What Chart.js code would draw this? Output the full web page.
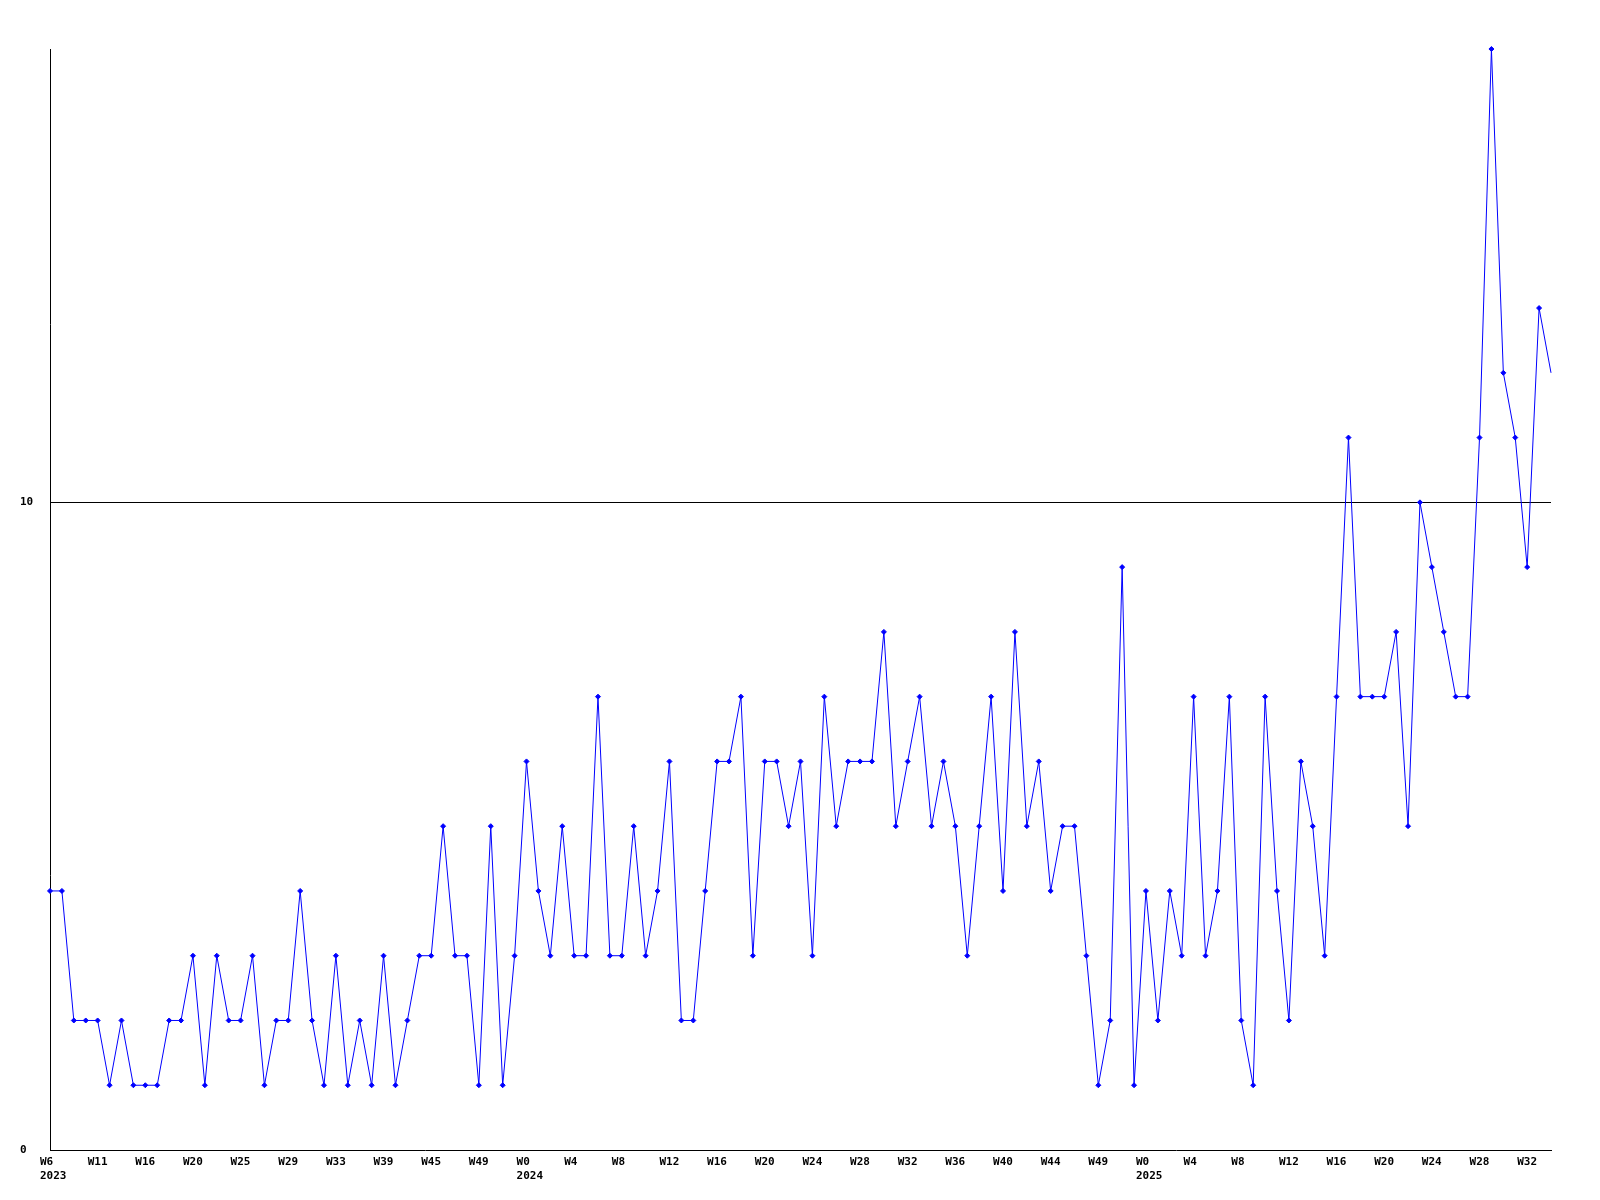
<!DOCTYPE html>
<html>
<head>
<meta charset="utf-8">
<script src="https://cdn.jsdelivr.net/npm/chart.js@4/dist/chart.umd.min.js"></script>
<style>
  html, body { margin: 0; padding: 0; background: #fff; }
  #wrap { width: 1600px; height: 1200px; }
</style>
</head>
<body>
<div id="wrap"><canvas id="weeklyChart" width="1600" height="1200"></canvas></div>
<script>
// week numbers per year (a few weeks are missing in the source)
const weeks2023 = [6, 7, 8, 9, 11, 12, 13, 14, 16, 17, 18, 19, 20, 21, 22, 23, 25, 26, 27, 28,
                   29, 30, 31, 32, 33, 34, 35, 36, 39, 40, 41, 42, 45, 46, 47, 48, 49, 50, 51, 52];
const weeks2024 = [0, 1, 2, 3, 4, 5, 6, 7, 8, 9, 10, 11, 12, 13, 14, 15, 16, 17, 18, 19,
                   20, 21, 22, 23, 24, 25, 26, 27, 28, 29, 30, 31, 32, 33, 34, 35, 36, 37, 38, 39,
                   40, 41, 42, 43, 44, 45, 46, 47, 49, 50, 51, 52];
const weeks2025 = [0, 1, 2, 3, 4, 5, 6, 7, 8, 9, 10, 11, 12, 13, 14, 15, 16, 17, 18, 19,
                   20, 21, 22, 23, 24, 25, 26, 27, 28, 29, 30, 31, 32, 33, 34];

// weekly counts
const counts = [
  4, 4, 2, 2, 2, 1, 2, 1, 1, 1, 2, 2, 3, 1, 3, 2, 2, 3, 1, 2,
  2, 4, 2, 1, 3, 1, 2, 1, 3, 1, 2, 3, 3, 5, 3, 3, 1, 5, 1, 3,
  6, 4, 3, 5, 3, 3, 7, 3, 3, 5, 3, 4, 6, 2, 2, 4, 6, 6, 7, 3,
  6, 6, 5, 6, 3, 7, 5, 6, 6, 6, 8, 5, 6, 7, 5, 6, 5, 3, 5, 7,
  4, 8, 5, 6, 4, 5, 5, 3, 1, 2, 9, 1, 4, 2, 4, 3, 7, 3, 4, 7,
  2, 1, 7, 4, 2, 6, 5, 3, 7, 11, 7, 7, 7, 8, 5, 10, 9, 8, 7, 7,
  11, 17, 12, 11, 9, 13, 12
];

const yTicksShown = [0, 10];
const labelEvery = 4;

// build categories and remember where each year starts
const labels = [];
const yearAt = {};
[[2023, weeks2023], [2024, weeks2024], [2025, weeks2025]].forEach(function(pair) {
    yearAt[labels.length] = String(pair[0]);
    pair[1].forEach(function(w) { labels.push('W' + w); });
});

const monoFont = { family: '"DejaVu Sans Mono", monospace', size: 11, weight: 'bold' };

new Chart(document.getElementById('weeklyChart'), {
    type: 'line',
    data: {
        labels: labels,
        datasets: [{
            data: counts,
            borderColor: '#0000ff',
            backgroundColor: '#0000ff',
            borderWidth: 1,
            pointStyle: 'rectRot',
            pointRadius: function(ctx) { return ctx.dataIndex === counts.length - 1 ? 0 : 2.5; },
            pointBorderWidth: 1,
            tension: 0,
            fill: false,
            clip: 4
        }]
    },
    options: {
        responsive: false,
        animation: false,
        events: [],
        layout: { padding: { left: 20, right: 49, top: 49, bottom: 0 } },
        plugins: { legend: { display: false }, tooltip: { enabled: false } },
        scales: {
            x: {
                type: 'category',
                offset: false,
                afterFit: function(axis) { axis.height = 50; },
                grid: { display: false, drawTicks: false },
                border: { display: true, color: '#000', width: 1 },
                ticks: {
                    autoSkip: false,
                    maxRotation: 0,
                    minRotation: 0,
                    align: 'start',
                    labelOffset: -10,
                    padding: 6,
                    color: '#000',
                    font: monoFont,
                    callback: function(value, index) {
                        if (index % labelEvery !== 0) return '';
                        const w = labels[index];
                        return yearAt[index] ? [w, yearAt[index]] : w;
                    }
                }
            },
            y: {
                min: 0,
                max: 17,
                afterFit: function(axis) { axis.width = 30; },
                afterBuildTicks: function(axis) {
                    axis.ticks = yTicksShown.map(function(v) { return { value: v }; });
                },
                grid: {
                    drawTicks: false,
                    color: function(ctx) { return ctx.tick && ctx.tick.value === 10 ? '#000' : 'rgba(0,0,0,0)'; },
                    lineWidth: 1
                },
                border: { display: true, color: '#000', width: 1 },
                ticks: {
                    crossAlign: 'far',
                    padding: 0,
                    color: '#000',
                    font: monoFont
                }
            }
        }
    }
});
</script>
</body>
</html>
